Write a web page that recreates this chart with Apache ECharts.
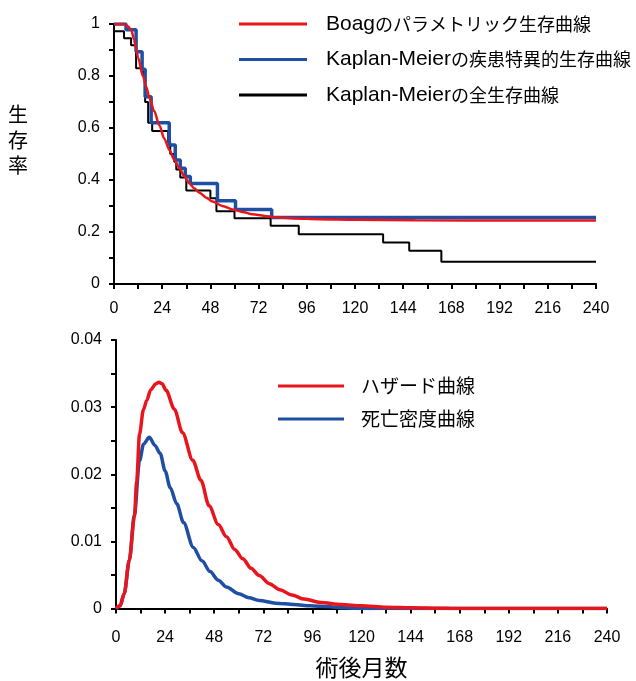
<!DOCTYPE html>
<html>
<head>
<meta charset="utf-8">
<script src="https://cdn.jsdelivr.net/npm/echarts@6/dist/echarts.min.js"></script>
<style>
html,body{margin:0;padding:0;background:#fff;}
#chart{width:636px;height:681px;}
</style>
</head>
<body>
<div id="chart"></div>
<script>
// ---------- Top chart: survival curves ----------
const survNames = ['Boagのパラメトリック生存曲線', 'Kaplan-Meierの疾患特異的生存曲線', 'Kaplan-Meierの全生存曲線'];
// Boag parametric survival curve
const boagT = [0, 5, 7, 8.6, 10, 11, 12, 14.4, 16, 17.7, 20, 22.6, 25, 27.6, 30, 32.6, 35, 37.5, 40, 42.5, 46, 49, 54, 59, 64, 69, 75, 80, 90, 102, 120, 150, 200, 240];
const boagS = [1, 1, 0.99, 0.977, 0.94, 0.905, 0.87, 0.80, 0.76, 0.715, 0.665, 0.61, 0.56, 0.515, 0.478, 0.445, 0.415, 0.387, 0.368, 0.351, 0.332, 0.317, 0.30, 0.287, 0.277, 0.268, 0.262, 0.257, 0.252, 0.249, 0.247, 0.245, 0.244, 0.244];
// Kaplan-Meier disease-specific survival (step)
const kmDssT = [0, 6, 11, 14, 15.5, 18.5, 27.5, 30.5, 33, 35.5, 38, 51.5, 60.5, 78.5, 240];
const kmDssS = [1, 0.978, 0.893, 0.826, 0.72, 0.62, 0.535, 0.477, 0.445, 0.413, 0.387, 0.32, 0.287, 0.256, 0.256];
// Kaplan-Meier overall survival (step)
const kmOsT = [0, 5, 8.5, 11, 14.5, 15.5, 17, 19, 27, 28, 30, 31, 33, 36, 48, 51, 60, 78, 92, 134, 147, 163, 240];
const kmOsS = [0.972, 0.945, 0.918, 0.83, 0.80, 0.70, 0.62, 0.588, 0.545, 0.50, 0.47, 0.44, 0.41, 0.36, 0.33, 0.28, 0.253, 0.224, 0.191, 0.160, 0.128, 0.086, 0.086];

// ---------- Bottom chart: hazard / death density ----------
const hazNames = ['ハザード曲線', '死亡密度曲線'];
const hazT = [0, 2, 4, 6.5, 9, 10.1, 11.5, 13.4, 15, 17, 19.5, 21, 22.5, 24.5, 28.5, 32.5, 37.5, 41.5, 45.5, 50, 54, 58, 62, 66, 70, 75, 80, 86, 92, 100, 110, 120, 132, 145, 158, 165, 240];
const hazV = [0, 0.0004, 0.0022, 0.0072, 0.0136, 0.0190, 0.026, 0.0296, 0.031, 0.0326, 0.0335, 0.0337, 0.0335, 0.0325, 0.0297, 0.0262, 0.0221, 0.0191, 0.0153, 0.0125, 0.0107, 0.0088, 0.0074, 0.006, 0.0049, 0.0037, 0.0028, 0.002, 0.0014, 0.0009, 0.0006, 0.0004, 0.0002, 0.00012, 0.00005, 0, 0];
const densT = [0, 2, 4, 6.5, 9, 11.5, 13.5, 16.3, 19, 21.6, 24, 26.5, 29.7, 33, 37.8, 42, 46, 50, 54, 60, 65, 70, 78, 87, 95, 103, 112, 120, 240];
const densV = [0, 0.0004, 0.0022, 0.0072, 0.0140, 0.022, 0.0245, 0.0255, 0.0243, 0.0231, 0.0205, 0.0180, 0.0156, 0.0128, 0.0091, 0.0071, 0.0055, 0.0042, 0.0032, 0.0022, 0.0016, 0.0012, 0.0008, 0.0006, 0.0004, 0.0003, 0.0001, 0, 0];

const yTitle = '生存率';
const xTitle = '術後月数';

const RED = '#e8161c', BLUE = '#1f4fa3', BLACK = '#000000';
const zip = (a, b) => a.map((v, i) => [v, b[i]]);

const chart = echarts.init(document.getElementById('chart'), null, {renderer: 'canvas'});
const labelFont = {color: '#000', fontFamily: '"Liberation Sans", Arial, sans-serif', fontSize: 16};
const axisCommon = {
  axisLine: {show: true, lineStyle: {color: '#000', width: 2}},
  axisTick: {show: true, length: 5, lineStyle: {color: '#000', width: 2}},
  minorTick: {show: true, splitNumber: 2, length: 5, lineStyle: {color: '#000', width: 2}},
  splitLine: {show: false}
};

chart.setOption({
  animation: false,
  backgroundColor: '#fff',
  grid: [
    {left: 114, top: 24, width: 482, height: 260},
    {left: 116, top: 340, width: 491, height: 268.5}
  ],
  xAxis: [
    Object.assign({type: 'value', gridIndex: 0, min: 0, max: 240, interval: 24,
      axisLabel: Object.assign({margin: 17}, labelFont)}, axisCommon),
    Object.assign({type: 'value', gridIndex: 1, min: 0, max: 240, interval: 24,
      axisLabel: Object.assign({margin: 21}, labelFont),
      name: xTitle, nameLocation: 'middle', nameGap: 47,
      nameTextStyle: {color: '#000', fontFamily: '"Noto Sans CJK JP", sans-serif', fontSize: 23}}, axisCommon)
  ],
  yAxis: [
    Object.assign({type: 'value', gridIndex: 0, min: 0, max: 1, interval: 0.2,
      axisLabel: Object.assign({margin: 14}, labelFont)}, axisCommon),
    Object.assign({type: 'value', gridIndex: 1, min: 0, max: 0.04, interval: 0.01,
      axisLabel: Object.assign({margin: 14}, labelFont)}, axisCommon)
  ],
  legend: [
    {orient: 'vertical', left: 234, top: 8, padding: 5, itemWidth: 68, itemHeight: 3, itemGap: 13.5,
      icon: 'rect', data: survNames, selectedMode: false,
      formatter: function (name) { return name.replace(/^([A-Za-z\-]+)(.*)$/, '{a|$1}{b|$2}'); },
      textStyle: {color: '#000', padding: [0, 0, 0, 14], lineHeight: 22,
        rich: {
          a: {fontFamily: '"Liberation Sans", Arial, sans-serif', fontSize: 21, lineHeight: 22, color: '#000', verticalAlign: 'middle'},
          b: {fontFamily: '"Noto Sans CJK JP", sans-serif', fontSize: 18, lineHeight: 22, color: '#000', verticalAlign: 'middle'}
        }}},
    {orient: 'vertical', left: 273, top: 370, padding: 5, itemWidth: 66, itemHeight: 3, itemGap: 11,
      icon: 'rect', data: hazNames, selectedMode: false,
      textStyle: {color: '#000', padding: [0, 0, 0, 12], fontFamily: '"Noto Sans CJK JP", sans-serif', fontSize: 19, lineHeight: 22}}
  ],
  graphic: [
    {type: 'text', left: 8, top: 102, style: {text: yTitle.split('').join('\n'), fill: '#000',
      font: '20px "Noto Sans CJK JP", sans-serif', lineHeight: 25.5, align: 'center'}}
  ],
  series: [
    {name: survNames[2], type: 'line', xAxisIndex: 0, yAxisIndex: 0, step: 'end', showSymbol: false,
      data: zip(kmOsT, kmOsS), lineStyle: {color: BLACK, width: 2}, itemStyle: {color: BLACK}},
    {name: survNames[1], type: 'line', xAxisIndex: 0, yAxisIndex: 0, step: 'end', showSymbol: false,
      data: zip(kmDssT, kmDssS), lineStyle: {color: BLUE, width: 3.5}, itemStyle: {color: BLUE}},
    {name: survNames[0], type: 'line', xAxisIndex: 0, yAxisIndex: 0, showSymbol: false, smooth: 0.3, smoothMonotone: 'x',
      data: zip(boagT, boagS), lineStyle: {color: RED, width: 2.5}, itemStyle: {color: RED}},
    {name: hazNames[1], type: 'line', xAxisIndex: 1, yAxisIndex: 1, showSymbol: false, smooth: 0.3, smoothMonotone: 'x',
      data: zip(densT, densV), lineStyle: {color: BLUE, width: 3.5}, itemStyle: {color: BLUE}},
    {name: hazNames[0], type: 'line', xAxisIndex: 1, yAxisIndex: 1, showSymbol: false, smooth: 0.3, smoothMonotone: 'x',
      data: zip(hazT, hazV), lineStyle: {color: RED, width: 3.5}, itemStyle: {color: RED}}
  ]
});
</script>
</body>
</html>
